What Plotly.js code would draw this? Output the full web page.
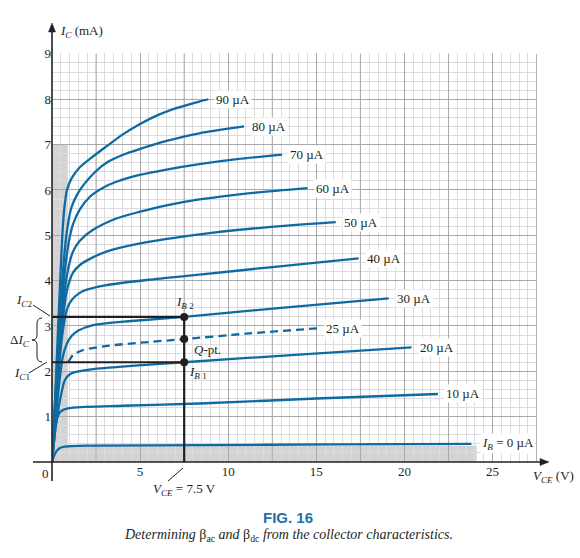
<!DOCTYPE html>
<html>
<head>
<meta charset="utf-8">
<script src="https://cdn.plot.ly/plotly-3.0.1.min.js"></script>
<style>html,body{margin:0;padding:0;background:#fff;}#chart{width:580px;height:558px;}</style>
</head>
<body>
<div id="chart"></div>
<script>
// ---- data (VCE in V, IC in mA) ----
const ib0X  = [0, 0.1, 0.26, 0.45, 0.73, 2, 8.36, 16, 23.8];
const ib0Y  = [0, 0.12, 0.24, 0.31, 0.34, 0.36, 0.37, 0.39, 0.40];
const ib10X = [0, 0.1, 0.2, 0.3, 0.45, 0.7, 1.2, 4, 8.36, 15, 21.9];
const ib10Y = [0, 0.4, 0.78, 0.98, 1.1, 1.16, 1.2, 1.24, 1.29, 1.4, 1.5];
const ib20X = [0, 0.2, 0.4, 0.55, 0.7, 0.9, 1.2, 2.33, 4.5, 7.5, 14, 20.4];
const ib20Y = [0, 0.75, 1.25, 1.55, 1.78, 1.9, 1.97, 2.05, 2.12, 2.2, 2.37, 2.53];
const ib25X = [0.92, 1.2, 1.77, 3.09, 5, 7.5, 11, 15.1];
const ib25Y = [2.2, 2.36, 2.47, 2.56, 2.63, 2.71, 2.83, 2.95];
const ib30X = [0, 0.2, 0.4, 0.6, 0.83, 1.11, 1.5, 2.33, 4.5, 7.5, 13, 19.1];
const ib30Y = [0, 0.9, 1.7, 2.3, 2.6, 2.78, 2.9, 3.02, 3.11, 3.2, 3.4, 3.61];
const ib40X = [0, 0.2, 0.4, 0.6, 0.8, 1.0, 1.3, 1.77, 3.09, 5.5, 8.36, 12.5, 17.4];
const ib40Y = [0, 1.1, 2.1, 2.85, 3.3, 3.5, 3.65, 3.77, 3.9, 4.02, 4.13, 4.3, 4.49];
const ib50X = [0, 0.2, 0.4, 0.6, 0.8, 1.0, 1.2, 1.6, 2.15, 3.09, 5, 8.36, 12, 16.1];
const ib50Y = [0, 1.2, 2.3, 3.1, 3.7, 4.0, 4.18, 4.35, 4.48, 4.64, 4.82, 5.02, 5.17, 5.29];
const ib60X = [0, 0.2, 0.4, 0.6, 0.8, 1.0, 1.2, 1.58, 2.33, 3.65, 5, 6.5, 8.36, 11, 14.5];
const ib60Y = [0, 1.3, 2.5, 3.4, 4.0, 4.4, 4.65, 4.88, 5.12, 5.37, 5.52, 5.66, 5.79, 5.92, 6.04];
const ib70X = [0, 0.2, 0.4, 0.6, 0.8, 1.0, 1.2, 1.58, 2.15, 2.9, 3.65, 4.97, 6.5, 8.36, 10.5, 13.05];
const ib70Y = [0, 1.4, 2.7, 3.7, 4.45, 4.95, 5.25, 5.57, 5.85, 6.05, 6.18, 6.33, 6.45, 6.57, 6.68, 6.78];
const ib80X = [0, 0.2, 0.4, 0.6, 0.8, 1.0, 1.11, 1.4, 1.77, 2.4, 3.09, 4, 4.97, 6.5, 8.36, 10.9];
const ib80Y = [0, 1.5, 2.9, 4.1, 4.95, 5.45, 5.62, 5.88, 6.1, 6.38, 6.6, 6.77, 6.9, 7.08, 7.25, 7.4];
const ib90X = [0, 0.2, 0.35, 0.5, 0.6, 0.7, 0.85, 1.1, 1.58, 2.2, 3.09, 4, 4.97, 6, 7, 8.36, 8.87];
const ib90Y = [0, 1.6, 3.0, 4.3, 5.1, 5.6, 6.0, 6.25, 6.5, 6.7, 6.96, 7.22, 7.45, 7.65, 7.8, 7.95, 8.0];
const curveNames = ['<i>I</i><sub><i>B</i></sub> = 0 µA','10 µA','20 µA','25 µA','30 µA','40 µA','50 µA','60 µA','70 µA','80 µA','90 µA'];
const curvesX = [ib0X, ib10X, ib20X, ib25X, ib30X, ib40X, ib50X, ib60X, ib70X, ib80X, ib90X];
const curvesY = [ib0Y, ib10Y, ib20Y, ib25Y, ib30Y, ib40Y, ib50Y, ib60Y, ib70Y, ib80Y, ib90Y];
const dashedIndex = 3;

const qX = [7.5, 7.5, 7.5];          // IB2, Q-pt, IB1
const qY = [3.2, 2.71, 2.2];
const icLevels = [3.2, 2.2];          // IC2, IC1
const vceQ = 7.5;

const xTickVals = [5, 10, 15, 20, 25];
const xTickText = ['5', '10', '15', '20', '25'];
const xHalfMajors = [2.5, 7.5, 12.5, 17.5, 22.5, 27.5];
const yTickVals = [1, 2, 3, 4, 5, 6, 7, 8, 9];
const yTickText = ['1', '2', '3', '4', '5', '6', '7', '8', '9'];

// ---- styling / layout helpers ----
const BLUE = '#0d6aa3';
const INK = '#231f20';
const L = 52, R = 537, T = 53, B = 462;
const px = p => (p - L) / (R - L);
const py = p => (B - p) / (B - T);
const serif = 'Liberation Serif, Times New Roman, serif';

const traces = [];
curvesX.forEach((xs, i) => {
  traces.push({
    x: xs, y: curvesY[i], type: 'scatter', mode: 'lines',
    line: {color: BLUE, width: 2.3, shape: 'spline', smoothing: 0.7,
           dash: i === dashedIndex ? '8px,5px' : 'solid'},
    hoverinfo: 'skip', showlegend: false
  });
});
icLevels.forEach(v => {
  traces.push({x: [0, vceQ], y: [v, v], type: 'scatter', mode: 'lines',
    line: {color: INK, width: 2.2}, showlegend: false, hoverinfo: 'skip'});
});
traces.push({x: [vceQ, vceQ], y: [0, icLevels[0]], type: 'scatter', mode: 'lines',
  line: {color: INK, width: 2.2}, showlegend: false, hoverinfo: 'skip'});
traces.push({x: qX, y: qY, type: 'scatter', mode: 'markers',
  marker: {color: INK, size: 8}, showlegend: false, hoverinfo: 'skip'});

const annotations = [];
curvesX.forEach((xs, i) => {
  const n = xs.length - 1;
  annotations.push({x: xs[n], y: curvesY[i][n], xref: 'x', yref: 'y', xanchor: 'left', yanchor: 'middle',
    xshift: i === 0 ? 9 : 6, text: curveNames[i], showarrow: false, bgcolor: 'white', borderpad: 1,
    font: {family: serif, size: 13, color: INK}});
});
function txt(x, y, text, opts) {
  return Object.assign({xref: 'paper', yref: 'paper', x: px(x), y: py(y), text: text, showarrow: false,
    xanchor: 'center', yanchor: 'middle', font: {family: serif, size: 13, color: INK}}, opts || {});
}
annotations.push(txt(45, 473, '0'));
annotations.push(txt(58, 31, '<i>I</i><sub><i>C</i></sub> (mA)', {xanchor: 'left'}));
annotations.push(txt(531, 476, '<i>V</i><sub><i>CE</i></sub> (V)', {xanchor: 'left'}));
annotations.push(txt(185, 302, '<i>I</i><sub><i>B</i> 2</sub>'));
annotations.push(txt(192, 349, '<i>Q</i>-pt.', {xanchor: 'left'}));
annotations.push(txt(187, 372, '<i>I</i><sub><i>B</i> 1</sub>', {xanchor: 'left'}));
annotations.push(txt(24, 300, '<i>I</i><sub><i>C</i>2</sub>'));
annotations.push(txt(20, 340, 'Δ<i>I</i><sub><i>C</i></sub>'));
annotations.push(txt(22, 373, '<i>I</i><sub><i>C</i>1</sub>'));
annotations.push(txt(184, 489, '<i>V</i><sub><i>CE</i></sub> = 7.5 V'));
annotations.push(txt(288, 517, '<b>FIG. 16</b>', {font: {family: 'Liberation Sans Narrow, Arial Narrow, sans-serif', size: 15, color: '#1f6fa8'}}));
annotations.push(txt(288, 535, '<i>Determining </i>β<sub>ac</sub><i> and </i>β<sub>dc</sub><i> from the collector characteristics.</i>', {font: {family: serif, size: 14, color: INK}}));

function pathPx(pts) {
  return pts.map(s => s.replace(/(-?\d+(?:\.\d+)?),(-?\d+(?:\.\d+)?)/g, (m, a, b) => px(+a) + ',' + py(+b))).join(' ');
}
const shapes = [
  {type: 'rect', xref: 'x', yref: 'y', x0: 0, x1: 0.9, y0: 0, y1: 7, fillcolor: '#d3d3d4', line: {width: 0}, layer: 'below'},
  {type: 'rect', xref: 'x', yref: 'y', x0: 0, x1: 24.1, y0: 0, y1: 0.36, fillcolor: '#d3d3d4', line: {width: 0}, layer: 'below'}
];
xHalfMajors.forEach(v => shapes.push({type: 'line', xref: 'x', yref: 'y', x0: v, x1: v, y0: 0, y1: 9,
  line: {color: '#a9a9ab', width: 1}, layer: 'between'}));
shapes.push(
  // axes with arrowheads
  {type: 'line', xref: 'paper', yref: 'paper', x0: px(33), y0: 0, x1: px(543), y1: 0, line: {color: INK, width: 1.6}},
  {type: 'line', xref: 'paper', yref: 'paper', x0: 0, y0: py(481), x1: 0, y1: py(29), line: {color: INK, width: 1.6}},
  {type: 'path', xref: 'paper', yref: 'paper', fillcolor: INK, line: {color: INK, width: 0.5},
   path: pathPx(['M549,462', 'L540,458.5', 'L540,465.5', 'Z'])},
  {type: 'path', xref: 'paper', yref: 'paper', fillcolor: INK, line: {color: INK, width: 0.5},
   path: pathPx(['M52,23', 'L48.5,32', 'L55.5,32', 'Z'])},
  // leader lines and brace
  {type: 'line', xref: 'paper', yref: 'paper', x0: px(33), y0: py(305), x1: px(50), y1: py(316), line: {color: INK, width: 1}},
  {type: 'line', xref: 'paper', yref: 'paper', x0: px(29), y0: py(373), x1: px(47), y1: py(362), line: {color: INK, width: 1}},
  {type: 'line', xref: 'paper', yref: 'paper', x0: px(168), y0: py(481), x1: px(183), y1: py(468), line: {color: INK, width: 1}},
  {type: 'path', xref: 'paper', yref: 'paper', line: {color: INK, width: 1},
   path: pathPx(['M42,318', 'Q37,318 37,324', 'L37,335', 'Q37,340 32,340', 'Q37,340 37,345', 'L37,356', 'Q37,362 42,362'])}
);

const layout = {
  width: 580, height: 558,
  margin: {l: L, r: 580 - R, t: T, b: 558 - B, pad: 0},
  paper_bgcolor: 'white', plot_bgcolor: 'white',
  showlegend: false,
  font: {family: serif, size: 13, color: INK},
  xaxis: {range: [0, 27.52], tickmode: 'array', tickvals: xTickVals, ticktext: xTickText,
    showgrid: true, gridcolor: '#a9a9ab', gridwidth: 1, zeroline: false, showline: false, ticks: '',
    tickfont: {family: serif, size: 13, color: INK},
    minor: {tickmode: 'linear', tick0: 0, dtick: 0.5, showgrid: true, gridcolor: '#dcdcde', gridwidth: 1, ticks: ''}},
  yaxis: {range: [0, 9.02], tickmode: 'array', tickvals: yTickVals, ticktext: yTickText,
    showgrid: true, gridcolor: '#a9a9ab', gridwidth: 1, zeroline: false, showline: false, ticks: '',
    tickfont: {family: serif, size: 13, color: INK},
    minor: {tickmode: 'linear', tick0: 0, dtick: 0.2, showgrid: true, gridcolor: '#dcdcde', gridwidth: 1, ticks: ''}},
  shapes: shapes,
  annotations: annotations
};

Plotly.newPlot('chart', traces, layout, {displayModeBar: false, staticPlot: true});
</script>
</body>
</html>
